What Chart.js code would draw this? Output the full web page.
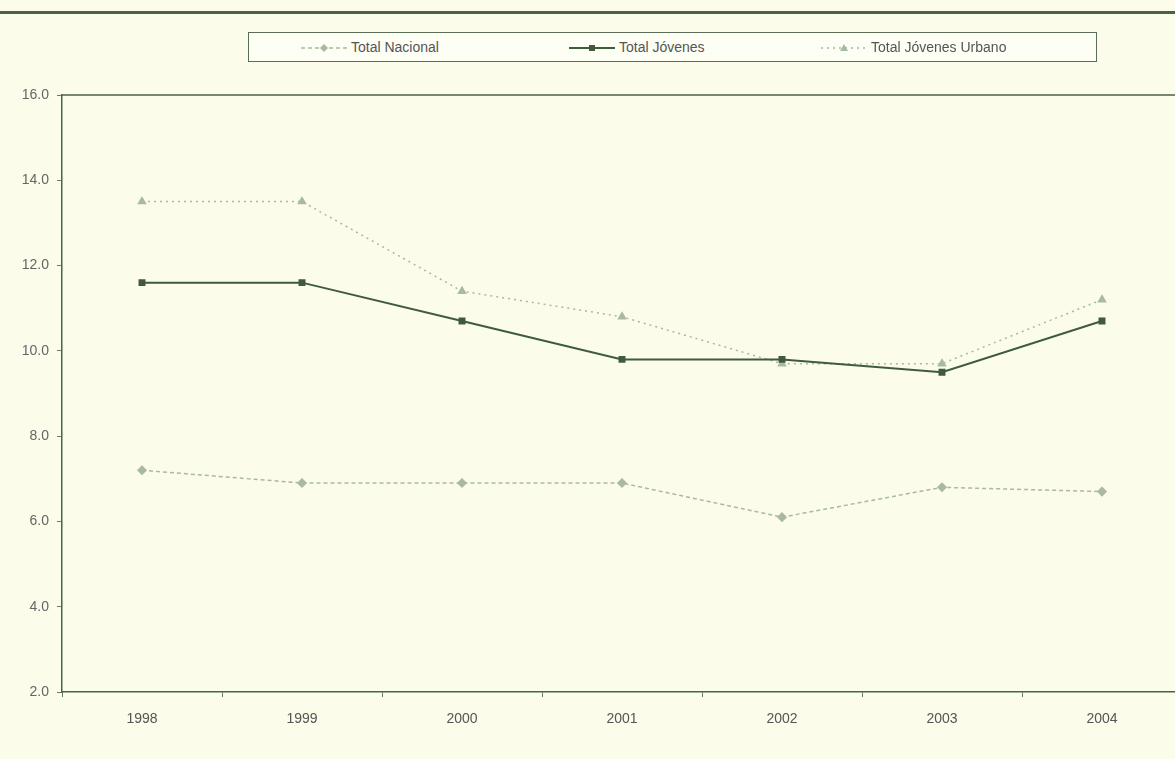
<!DOCTYPE html>
<html>
<head>
<meta charset="utf-8">
<script src="https://cdn.jsdelivr.net/npm/chart.js@4.4.0/dist/chart.umd.min.js"></script>
<style>
  html, body { margin: 0; padding: 0; background: #fbfce9; overflow: hidden; width: 1175px; height: 759px; }
  #rule { position: absolute; left: 0; top: 11px; width: 1175px; height: 3px; background: #4a6247; }
  #legend { position: absolute; left: 248px; top: 32px; width: 847px; height: 28px; border: 1px solid #5a6e56;
            background: #fdfef4; font-family: "Liberation Sans Narrow", "Arial Narrow", "Liberation Sans", sans-serif;
            font-size: 14px; color: #555; }
  .item { position: absolute; top: 6px; white-space: nowrap; }
  .item canvas { vertical-align: middle; margin-right: 4px; }
  #wrap { position: absolute; left: 0; top: 0; }
</style>
</head>
<body>
<div id="rule"></div>
<div id="legend"></div>
<div id="wrap"><canvas id="chart" width="1190" height="759"></canvas></div>
<script>
// Datos
const years = ['1998', '1999', '2000', '2001', '2002', '2003', '2004'];
const totalNacional = [7.2, 6.9, 6.9, 6.9, 6.1, 6.8, 6.7];
const totalJovenes = [11.6, 11.6, 10.7, 9.8, 9.8, 9.5, 10.7];
const totalJovenesUrbano = [13.5, 13.5, 11.4, 10.8, 9.7, 9.7, 11.2];
const yTicks = [2, 4, 6, 8, 10, 12, 14, 16];

const font = "'Liberation Sans Narrow', 'Arial Narrow', 'Liberation Sans', sans-serif";
const dark = '#3f5b3c';
const light = '#a9b9a2';

const series = [
    { label: 'Total Nacional', data: totalNacional, color: light, dash: [4, 3], style: 'rectRot', width: 1.5, left: 52 },
    { label: 'Total Jóvenes', data: totalJovenes, color: dark, dash: [], style: 'rect', width: 2, left: 320 },
    { label: 'Total Jóvenes Urbano', data: totalJovenesUrbano, color: light, dash: [2, 4], style: 'triangle', width: 1.5, left: 572 }
];

// Leyenda en HTML
const legendDiv = document.getElementById('legend');
series.forEach(s => {
    const item = document.createElement('div');
    item.className = 'item';
    item.style.left = s.left + 'px';
    const c = document.createElement('canvas');
    c.width = 46; c.height = 14;
    const g = c.getContext('2d');
    g.strokeStyle = s.color; g.lineWidth = s.width; g.setLineDash(s.dash);
    g.beginPath(); g.moveTo(0, 7); g.lineTo(46, 7); g.stroke();
    g.setLineDash([]); g.fillStyle = s.color;
    g.beginPath();
    if (s.style === 'rect') g.rect(20, 4, 6, 6);
    else if (s.style === 'rectRot') { g.moveTo(23, 3); g.lineTo(27, 7); g.lineTo(23, 11); g.lineTo(19, 7); }
    else { g.moveTo(23, 3); g.lineTo(27, 10); g.lineTo(19, 10); }
    g.fill();
    item.appendChild(c);
    item.appendChild(document.createTextNode(s.label));
    legendDiv.appendChild(item);
});

// Línea superior del área de trazado
const topBorder = {
    id: 'topBorder',
    afterDraw(chart) {
        const { ctx, chartArea } = chart;
        ctx.save();
        ctx.strokeStyle = '#4a6247';
        ctx.lineWidth = 1.5;
        ctx.beginPath();
        ctx.moveTo(chartArea.left, chartArea.top);
        ctx.lineTo(chartArea.right + 10, chartArea.top);
        ctx.stroke();
        ctx.restore();
    }
};

new Chart(document.getElementById('chart').getContext('2d'), {
    type: 'line',
    data: {
        labels: years,
        datasets: series.map(s => ({
            label: s.label,
            data: s.data,
            borderColor: s.color,
            backgroundColor: s.color,
            borderWidth: s.width,
            borderDash: s.dash,
            pointStyle: s.style,
            pointRadius: s.style === 'rect' ? 3.5 : 4,
            tension: 0
        }))
    },
    options: {
        responsive: false,
        animation: false,
        layout: { padding: { top: 95, right: 8, bottom: 27, left: 0 } },
        plugins: { legend: { display: false }, tooltip: { enabled: false } },
        scales: {
            x: {
                offset: true,
                afterFit(scale) { scale.height = 40; },
                grid: { offset: true, drawOnChartArea: false, tickLength: 5, color: '#6b7d66' },
                border: { color: '#4a6247', width: 1.5 },
                ticks: { color: '#555', font: { family: font, size: 14 }, padding: 14 }
            },
            y: {
                min: 2,
                max: 16,
                afterFit(scale) { scale.width = 62; },
                afterBuildTicks(scale) { scale.ticks = yTicks.map(v => ({ value: v })); },
                grid: { drawOnChartArea: false, tickLength: 5, color: '#6b7d66' },
                border: { color: '#4a6247', width: 1.5 },
                ticks: { color: '#666', font: { family: font, size: 14 }, padding: 8,
                         callback: v => Number(v).toFixed(1) }
            }
        }
    },
    plugins: [topBorder]
});
</script>
</body>
</html>
